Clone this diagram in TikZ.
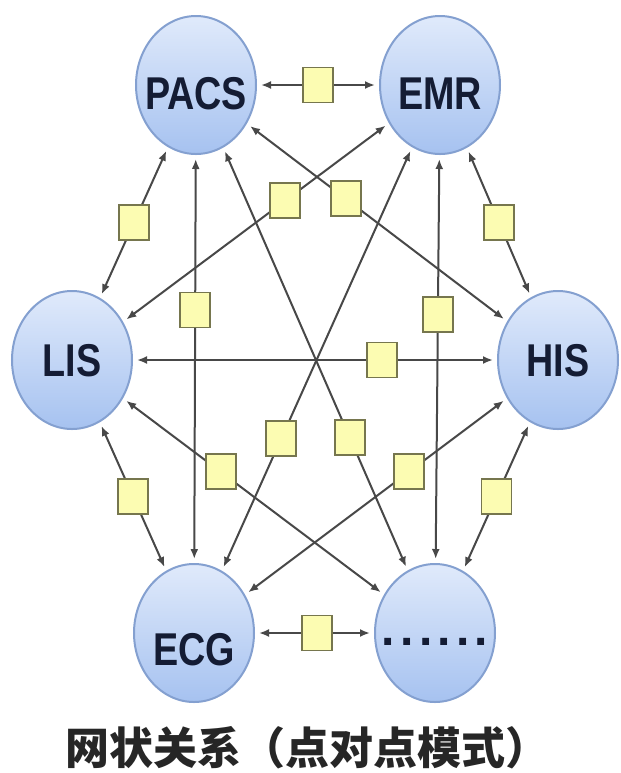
\documentclass[tikz,border=0pt]{standalone}
\usepackage{fontspec}
\usepackage{tikz}
\usetikzlibrary{arrows.meta,shapes.geometric,positioning}
\newfontfamily\labelfont{Liberation Sans}[FakeStretch=0.82]
\newfontfamily\dotfont{Liberation Sans}
\newfontfamily\cjk{Noto Sans CJK SC}
\definecolor{nodetop}{RGB}{224,234,251}
\definecolor{nodebottom}{RGB}{166,194,240}
\definecolor{nodeline}{RGB}{132,160,208}
\definecolor{labelnavy}{RGB}{20,28,52}
\definecolor{linkgray}{RGB}{72,72,72}
\definecolor{ifacefill}{RGB}{252,252,178}
\definecolor{ifaceline}{RGB}{118,118,78}

\begin{document}
\begin{tikzpicture}[x=0.5pt, y=-0.5pt, node distance=204pt and 61pt,
  sys/.style={ellipse, draw=nodeline, line width=1pt, top color=nodetop, bottom color=nodebottom,
    minimum width=60pt, minimum height=69pt, inner xsep=-12pt, inner ysep=0pt, text=labelnavy,
    font=\labelfont\bfseries\fontsize{23}{23}\selectfont, text height=16.5pt, text depth=0pt},
  link/.style={draw=linkgray, line width=1pt, {Latex[length=5pt,width=4pt]}-{Latex[length=5pt,width=4pt]},
    shorten <=2pt, shorten >=2pt},
  iface/.style={rectangle, draw=ifaceline, fill=ifacefill, line width=0.9pt,
    minimum width=15pt, minimum height=17.5pt, inner sep=0pt}]
  \fill[white] (0,0) rectangle (621,773);
  \useasboundingbox (0,0) rectangle (621,773);

  % the six systems
  \node[sys, text height=24.5pt] (pacs) at (196,85) {PACS};
  \node[sys, text height=24.5pt] (emr) [right=of pacs] {EMR};
  \node[sys, text height=32.5pt] (ecg) [below=of pacs, xshift=-1pt] {ECG};
  \node[sys, text height=12pt, font=\dotfont\bfseries\fontsize{24}{24}\selectfont] (dots) [right=of ecg, xshift=-1.5pt]
    {.\hspace{2.6pt}.\hspace{2.6pt}.\hspace{2.6pt}.\hspace{2.6pt}.\hspace{2.6pt}.};
  \node[sys] (lis) at (72,360) {LIS};
  \node[sys] (his) at (558,360) {HIS};

  % point to point links
  \draw[link] (pacs) -- node[iface] {} (emr);
  \draw[link] (pacs) -- node[iface] {} (lis);
  \draw[link] (pacs) -- node[iface, pos=.38] {} (ecg);
  \draw[link] (pacs) -- node[iface, pos=.38] {} (his);
  \draw[link] (pacs) -- node[iface, pos=.685] {} (dots);
  \draw[link] (emr) -- node[iface] {} (his);
  \draw[link] (emr) -- node[iface, pos=.39] {} (dots);
  \draw[link] (emr) -- node[iface, pos=.39] {} (lis);
  \draw[link] (emr) -- node[iface, pos=.688] {} (ecg);
  \draw[link] (lis) -- node[iface, pos=.684] {} (his);
  \draw[link] (lis) -- node[iface] {} (ecg);
  \draw[link] (lis) -- node[iface, pos=.374] {} (dots);
  \draw[link] (his) -- node[iface, pos=.374] {} (ecg);
  \draw[link] (his) -- node[iface] {} (dots);
  \draw[link] (ecg) -- node[iface, pos=.52] {} (dots);

  \node[font=\cjk\bfseries\fontsize{22}{24}\selectfont, text=black!85] (caption) at (308,748) {网状关系（点对点模式）};
\end{tikzpicture}
\end{document}
